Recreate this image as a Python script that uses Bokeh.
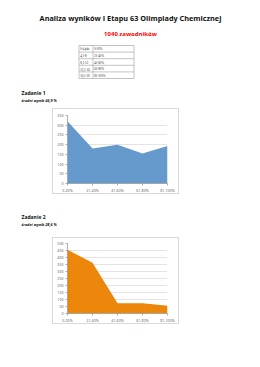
from bokeh.plotting import figure
from bokeh.layouts import column, row
from bokeh.models import Range1d, FixedTicker, Spacer
from bokeh.core.properties import value
from bokeh.embed import file_html
from bokeh.resources import INLINE

title = "Analiza wyników I Etapu 63 Olimpiady Chemicznej"
subtitle = "1040 zawodników"
table_pts = ["0-4 pkt.", "4,1-8", "8,1-12", "12,1-16", "16,1-20"]
table_pct = ["0-20%", "21-40%", "41-60%", "61-80%", "81-100%"]
categories = ["0-20%", "21-40%", "41-60%", "61-80%", "81-100%"]
task1_name = "Zadanie 1"
task1_avg = "średni wynik 44,9 %"
task1_values = [321, 180, 200, 154, 193]
task2_name = "Zadanie 2"
task2_avg = "średni wynik 28,6 %"
task2_values = [456, 362, 74, 73, 56]

FONT = "Open Sans"


def text_fig(h):
    f = figure(width=260, height=h, x_range=Range1d(0, 260), y_range=Range1d(h, 0),
               output_backend="svg", toolbar_location=None, min_border=0)
    f.axis.visible = False
    f.grid.visible = False
    f.outline_line_color = None
    return f


# header
hdr = text_fig(108)
hdr.text(x=[130], y=[17], text=[title], text_font=value(FONT), text_font_style="bold",
         text_font_size="7.3px", text_align="center", text_baseline="middle", text_color="#111111")
hdr.text(x=[130], y=[33], text=[subtitle], text_font=value(FONT), text_font_style="bold",
         text_font_size="6px", text_align="center", text_baseline="middle", text_color="#ff0000")
tx0, tx1, tx2 = 78.5, 92.5, 133.5
ty0, rh = 45.0, 6.6
n = len(table_pts)
hdr.segment(x0=[tx0] * (n + 1), x1=[tx2] * (n + 1), y0=[ty0 + i * rh for i in range(n + 1)],
            y1=[ty0 + i * rh for i in range(n + 1)], line_color="#9a9a9a", line_width=0.6)
hdr.segment(x0=[tx0, tx1, tx2], x1=[tx0, tx1, tx2], y0=[ty0] * 3, y1=[ty0 + n * rh] * 3,
            line_color="#9a9a9a", line_width=0.6)
hdr.text(x=[tx0 + 1.2] * n, y=[ty0 + (i + 0.55) * rh for i in range(n)], text=table_pts,
         text_font=value("Liberation Serif"), text_font_size="3.1px", text_baseline="middle",
         text_color="#222222")
hdr.text(x=[tx1 + 1.2] * n, y=[ty0 + (i + 0.55) * rh for i in range(n)], text=table_pct,
         text_font=value("Liberation Serif"), text_font_size="3.1px", text_baseline="middle",
         text_color="#222222")
hdr.text(x=[21], y=[92], text=[task1_name], text_font=value(FONT), text_font_style="bold",
         text_font_size="5px", text_baseline="middle", text_color="#111111")
hdr.text(x=[21], y=[99.5], text=[task1_avg], text_font=value(FONT), text_font_style="bold italic",
         text_font_size="3.8px", text_baseline="middle", text_color="#111111")

mid = text_fig(43)
mid.text(x=[21], y=[22.5], text=[task2_name], text_font=value(FONT), text_font_style="bold",
         text_font_size="5px", text_baseline="middle", text_color="#111111")
mid.text(x=[21], y=[30], text=[task2_avg], text_font=value(FONT), text_font_style="bold italic",
         text_font_size="3.8px", text_baseline="middle", text_color="#111111")


def chart(vals, ymax, color, w, h, top, bottom):
    p = figure(width=w, height=h, x_range=Range1d(0, len(categories) - 1), y_range=Range1d(0, ymax),
               output_backend="svg", toolbar_location=None,
               min_border_left=14, min_border_right=w - 14 - 100, min_border_top=top,
               min_border_bottom=bottom)
    xs = list(range(len(categories)))
    p.varea(x=xs, y1=[0] * len(vals), y2=vals, fill_color=color)
    p.outline_line_color = None
    p.xgrid.visible = False
    p.ygrid.grid_line_color = "#d9d9d9"
    p.ygrid.grid_line_width = 0.7
    p.yaxis.ticker = FixedTicker(ticks=list(range(0, ymax + 1, 50)))
    p.xaxis.ticker = FixedTicker(ticks=xs)
    p.xaxis.major_label_overrides = {i: c for i, c in enumerate(categories)}
    for ax in (p.xaxis, p.yaxis):
        ax.axis_line_color = "#8c8c8c"
        ax.axis_line_width = 0.7
        ax.major_tick_line_color = "#8c8c8c"
        ax.major_tick_line_width = 0.7
        ax.major_tick_out = 2
        ax.major_tick_in = 0
        ax.minor_tick_line_color = None
        ax.major_label_text_font = FONT
        ax.major_label_text_font_size = "3.6px"
        ax.major_label_text_color = "#555555"
        ax.major_label_standoff = 2
    p.styles = {"border": "1px solid #d9d9d9", "box-sizing": "border-box"}
    return p


c1 = chart(task1_values, 350, "#6699cc", 127, 86, 6, 11)
c2 = chart(task2_values, 500, "#ec870c", 127, 87, 5, 11)

layout = column(
    hdr,
    row(Spacer(width=52, height=86), c1, Spacer(width=81, height=86), spacing=0),
    mid,
    row(Spacer(width=52, height=87), c2, Spacer(width=81, height=87), spacing=0),
    Spacer(width=260, height=43),
    spacing=0,
)

open("out.html", "w").write(file_html(layout, INLINE))
